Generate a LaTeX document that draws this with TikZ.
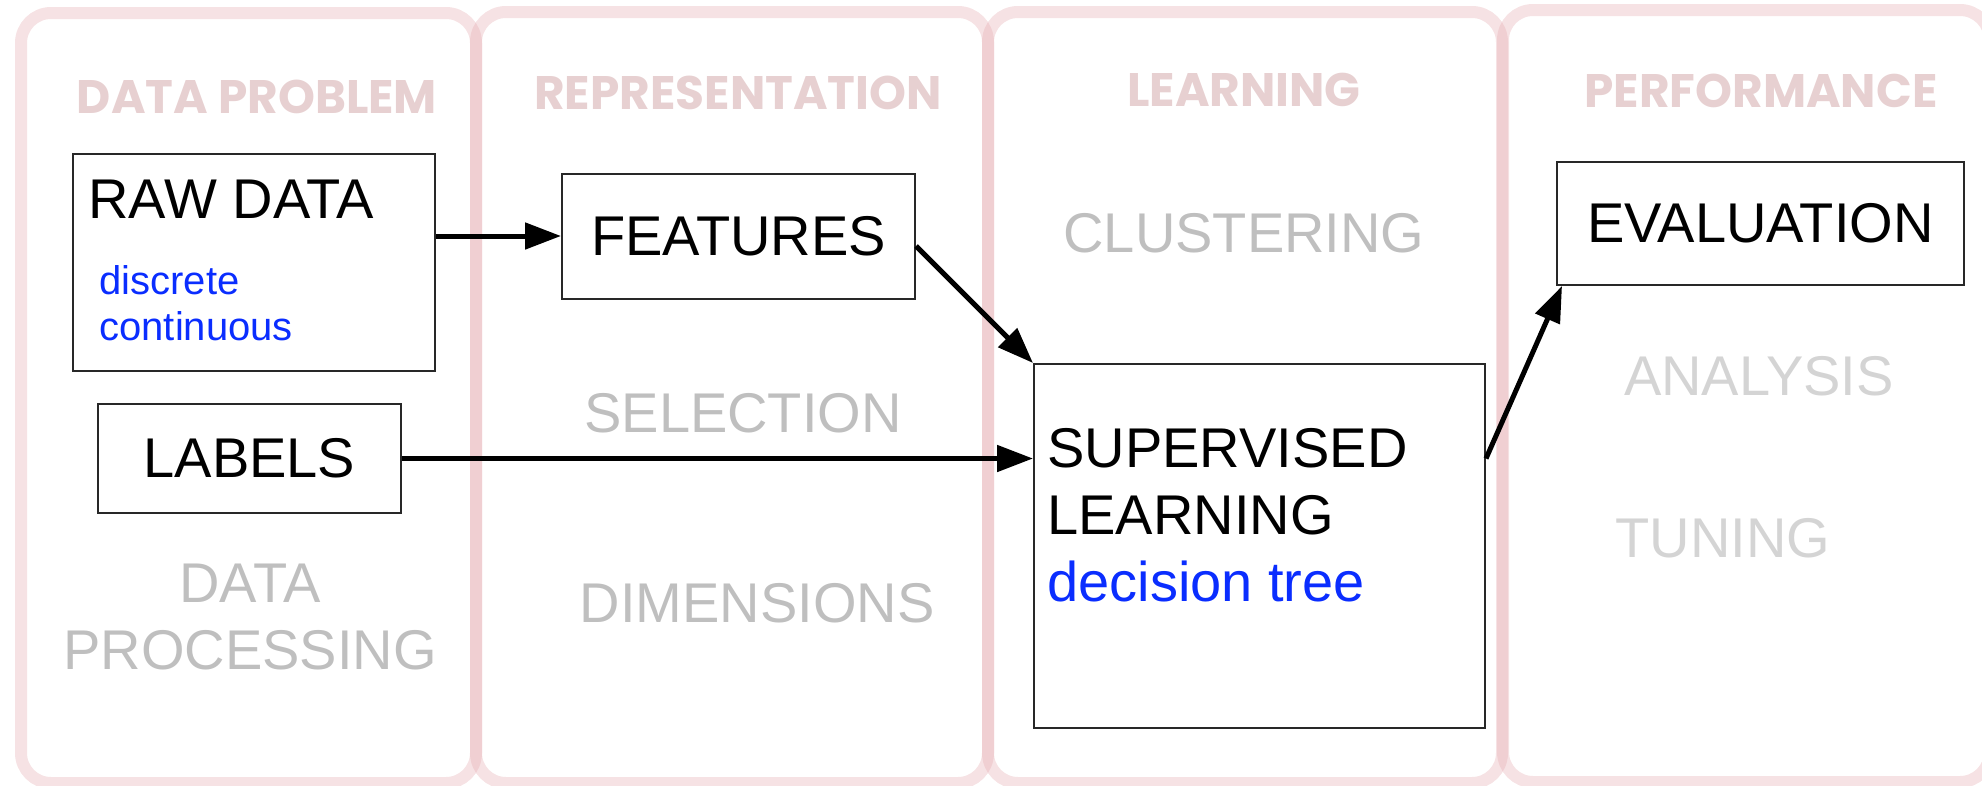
\documentclass[tikz,border=0pt]{standalone}
\usepackage{fontspec}
\setmainfont{Liberation Sans}
\newfontfamily\headfont{Poppins}
\usepackage{tikz}
\usetikzlibrary{arrows.meta,positioning}

\definecolor{lanepink}{RGB}{228,167,173}
\definecolor{headpink}{RGB}{231,208,209}
\definecolor{taskgray}{RGB}{191,191,191}
\definecolor{faintgray}{RGB}{212,212,212}
\definecolor{notebl}{RGB}{10,45,255}
\definecolor{boxgray}{RGB}{40,40,40}

\begin{document}
\begin{tikzpicture}[->,>={Triangle[length=36pt,width=26pt]},x=1pt,y=-1pt,line width=5pt]
  \tikzstyle{lane}=[-,draw=lanepink,line width=12pt,draw opacity=.33,rounded corners=30pt]
  \tikzstyle{stage}=[text=headpink,font=\headfont\bfseries\fontsize{47}{52}\selectfont]
  \tikzstyle{box}=[draw=boxgray,line width=2pt,inner sep=0pt]
  \tikzstyle{big}=[inner sep=0pt,font=\fontsize{56}{67}\selectfont]
  \tikzstyle{task}=[big,text=taskgray,align=center]
  \tikzstyle{faint}=[task,text=faintgray]
  \tikzstyle{note}=[inner sep=0pt,text=notebl,align=left,font=\fontsize{40}{46}\selectfont]

  \useasboundingbox (0,0) rectangle (1982,785);

  % lanes
  \draw[lane] (21,13) rectangle (476,783);
  \draw[lane] (476,12) rectangle (988,783);
  \draw[lane] (988,12) rectangle (1502,783);
  \draw[lane] (1503,10) rectangle (1990,782);

  \node[stage] (hdata)  at (257,97)  {DATA PROBLEM};
  \node[stage] (hrep)   at (738,93)  {REPRESENTATION};
  \node[stage] (hlearn) at (1244,90) {LEARNING};
  \node[stage] (hperf)  at (1761,91) {PERFORMANCE};

  % boxes
  \node[box,minimum width=362pt,minimum height=217pt] (raw) at (254,262.5) {};
  \node[big,anchor=north west]  (rawt)  at (86,177)  {RAW DATA};
  \node[note,anchor=north west] (kinds) at (97,263)  {discrete\\continuous};
  \node[box,big,minimum width=303pt,minimum height=109pt] (lab)  at (249.5,458.5)  {LABELS};
  \node[box,big,minimum width=353pt,minimum height=125pt] (feat) at (738.5,236)    {FEATURES};
  \node[box,minimum width=451pt,minimum height=364pt]     (sup)  at (1259.5,546)   {};
  \node[big,align=left,anchor=north west] (supt) at (1045,426)
    {SUPERVISED\\LEARNING\\\textcolor{notebl}{decision tree}};
  \node[box,big,minimum width=407pt,minimum height=123pt] (eval) at (1760.5,223.5) {EVALUATION};

  % grey tasks
  \node[task,anchor=north] (proc)  at (250,561)  {DATA\\PROCESSING};
  \node[task]  (sel)   at (743,413)  {SELECTION};
  \node[task]  (dim)   at (757,603)  {DIMENSIONS};
  \node[task]  (clu)   at (1244,233) {CLUSTERING};
  \node[faint] (ana)   at (1759,376) {ANALYSIS};
  \node[faint] (tun)   at (1723,538) {TUNING};

  \path (raw.east |- feat.west) edge (feat.west)
        ([yshift=-10pt]feat.east) edge (sup.north west)
        (lab.east) edge (sup.west |- lab.east)
        (sup.east |- lab.east) edge ([xshift=6pt]eval.south west);

\end{tikzpicture}
\end{document}
